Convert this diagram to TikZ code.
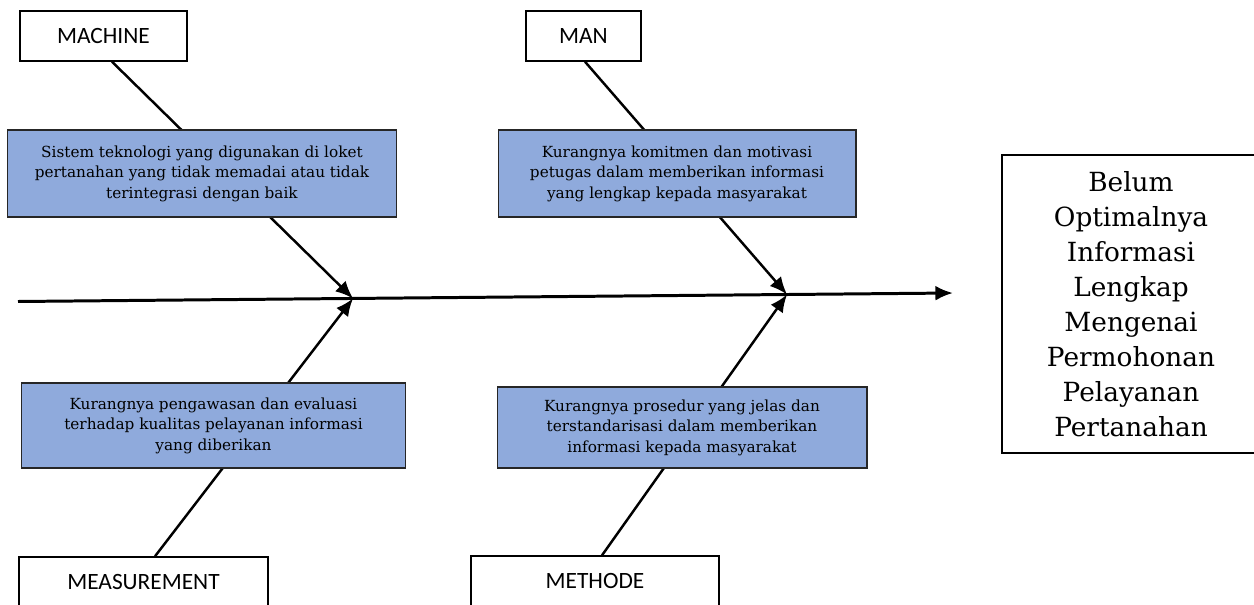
\documentclass[tikz,border=0pt]{standalone}
\usepackage{fontspec}
\setmainfont{DejaVu Serif}
\newfontfamily\catfont{Carlito}
\usetikzlibrary{arrows.meta,calc}
\definecolor{causeblue}{HTML}{8FAADC}
\tikzset{
  cat/.style={draw, line width=0.8pt, minimum height=1cm, inner sep=0pt, font=\catfont\fontsize{13.3}{16}\selectfont},
  cause/.style={draw=black!85, fill=causeblue, line width=0.6pt, align=center, inner sep=0pt, font=\fontsize{8.7}{11.7}\selectfont},
  bone/.style={->, line width=1.4pt},
}
\begin{document}
\begin{tikzpicture}[x=0.02cm, y=-0.02cm, >={Latex[length=10pt,width=8.5pt]}]
    \useasboundingbox (0,0) rectangle (1254,605);
    \node[cat, minimum width=3.34cm] (machine) at (103.5,36) {MACHINE};
    \node[cat, minimum width=2.3cm] (man) at (583.5,36) {MAN};
    \node[cat, minimum width=4.98cm] (measure) at (143.5,582) {MEASUREMENT};
    \node[cat, minimum width=4.96cm] (methode) at (595,581) {METHODE};
    \node[draw, line width=0.8pt, minimum width=5.16cm, minimum height=5.96cm, align=center,
          font=\fontsize{15}{19.9}\selectfont] (effect) at (1131,304)
          {Belum\\Optimalnya\\Informasi\\Lengkap\\Mengenai\\Permohonan\\Pelayanan\\Pertanahan};
    \coordinate (tail) at (18,301.5);
    \coordinate (head) at (953,293);
    \coordinate (j1) at ($(tail)!0.3583!(head)$);
    \coordinate (j2) at ($(tail)!0.8225!(head)$);
    \draw[bone, line width=1.7pt] (tail) -- (head);
    \draw[bone] ($(machine.south)+(8.5,0)$) -- (j1);
    \draw[bone] ($(measure.north)+(11.5,0)$) -- (j1);
    \draw[bone] ($(man.south)+(1.5,0)$) -- (j2);
    \draw[bone] ($(methode.north)+(7,0)$) -- (j2);
    \node[cause, minimum width=7.8cm, minimum height=1.74cm] (c1) at (202,173.5)
          {Sistem teknologi yang digunakan di loket\\pertanahan yang tidak memadai atau tidak\\terintegrasi dengan baik};
    \node[cause, minimum width=7.16cm, minimum height=1.74cm] (c2) at (677,173.5)
          {Kurangnya komitmen dan motivasi\\petugas dalam memberikan informasi\\yang lengkap kepada masyarakat};
    \node[cause, minimum width=7.7cm, minimum height=1.7cm] (c3) at (213.5,425.5)
          {Kurangnya pengawasan dan evaluasi\\terhadap kualitas pelayanan informasi\\yang diberikan};
    \node[cause, minimum width=7.4cm, minimum height=1.62cm] (c4) at (682,427.5)
          {Kurangnya prosedur yang jelas dan\\terstandarisasi dalam memberikan\\informasi kepada masyarakat};
\end{tikzpicture}
\end{document}
